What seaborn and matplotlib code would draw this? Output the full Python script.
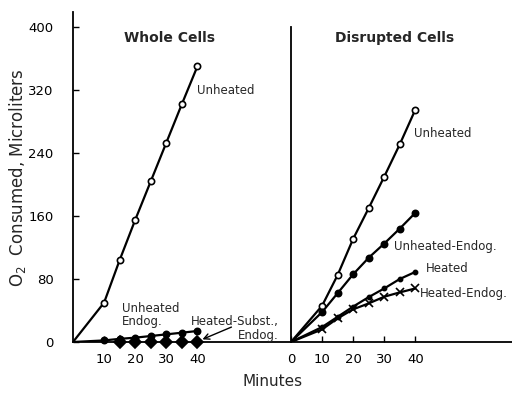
import matplotlib
matplotlib.use("Agg")
import matplotlib.pyplot as plt
import seaborn as sns
import pandas as pd

# ---- data ----
minutes = [0, 10, 15, 20, 25, 30, 35, 40]
whole_unheated = [0, 50, 104, 155, 204, 253, 302, 350]
whole_unheated_endog = [0, 2, 4, 5.5, 7.6, 9.7, 11.8, 14]
heated_subst_minutes = [15, 20, 25, 30, 35, 40]
whole_heated_subst = [0, 0, 0, 0, 0, 0]

disr_unheated = [0, 46, 85, 131, 170, 210, 251, 295]
disr_unheated_endog = [0, 38, 62, 86, 107, 125, 144, 164]
disr_heated = [0, 19, 32, 45, 57, 68, 80, 89]
disr_heated_endog = [0, 16, 30, 41.5, 49, 57.5, 63, 68]

y_ticks = [0, 80, 160, 240, 320, 400]
left_x_ticks = [10, 20, 30, 40]
right_x_ticks = [0, 10, 20, 30, 40]

sns.set_style("ticks")
plt.rcParams["font.family"] = ["DejaVu Sans"]

W, H = 512, 393
fig = plt.figure(figsize=(W / 100, H / 100), dpi=100)
ax1 = fig.add_axes([73 / W, 1 - 342 / H, (291 - 73) / W, (342 - 12) / H])
ax2 = fig.add_axes([291 / W, 1 - 342 / H, (512 - 291) / W, (342 - 12) / H], sharey=ax1)

k = "black"
lw = 1.6
fs = 9.5

def series(ax, x, y, marker, ms, mfc, line=True, zorder=3):
    if line:
        sns.lineplot(x=x, y=y, ax=ax, color=k, lw=lw, estimator=None, zorder=zorder)
    mx, my = (x[1:], y[1:]) if x[0] == 0 else (x, y)
    ax.plot(mx, my, linestyle="none", marker=marker, ms=ms, mfc=mfc, mec=k,
            mew=1.2, zorder=zorder + 1, clip_on=False)

# Whole cells
series(ax1, minutes, whole_unheated, "o", 4.5, "white")
series(ax1, minutes, whole_unheated_endog, "o", 4.5, k)
series(ax1, heated_subst_minutes, whole_heated_subst, "D", 6, k, line=False)

# Disrupted cells
series(ax2, minutes, disr_unheated, "o", 4.5, "white")
series(ax2, minutes, disr_unheated_endog, "o", 4.5, k)
series(ax2, minutes, disr_heated, "o", 3, k)
series(ax2, minutes, disr_heated_endog, "x", 6, k)

for ax in (ax1, ax2):
    ax.set_ylim(0, 419)
    for s in ("top", "right"):
        ax.spines[s].set_visible(False)
    for s in ("left", "bottom"):
        ax.spines[s].set_linewidth(1.3)
        ax.spines[s].set_color(k)
    ax.tick_params(direction="in", length=4, width=1, colors=k, labelsize=fs)
    ax.set_xlabel("")
    ax.set_ylabel("")

ax1.set_xlim(0, 70.1)
ax2.set_xlim(0, 71.1)
ax1.set_xticks(left_x_ticks)
ax2.set_xticks(right_x_ticks)
ax1.set_yticks(y_ticks)
ax1.tick_params(axis="x", pad=8)
ax2.tick_params(axis="x", pad=8)
ax1.tick_params(axis="y", pad=14)
ax2.tick_params(axis="y", left=False, labelleft=False)
ax2.spines["left"].set_bounds(0, 400)

fig.text(170 / W, 1 - 38 / H, "Whole Cells", ha="center", va="center", fontsize=10, fontweight="bold")
fig.text(395 / W, 1 - 38 / H, "Disrupted Cells", ha="center", va="center", fontsize=10, fontweight="bold")

def lab(x, y, s, ha="left"):
    fig.text(x / W, 1 - y / H, s, ha=ha, va="center", fontsize=8.5, linespacing=1.1)

lab(197, 91, "Unheated")
lab(122, 315, "Unheated\nEndog.")
lab(279, 328, "Heated-Subst.,\nEndog.", ha="right")
ax1.annotate("", xy=(40.8, 2), xycoords="data",
             xytext=(234 / W, 1 - 326 / H), textcoords="figure fraction",
             arrowprops=dict(arrowstyle="->", color=k, lw=1))
lab(414, 133, "Unheated")
lab(394, 246, "Unheated-Endog.")
lab(426, 269, "Heated")
lab(420, 293, "Heated-Endog.")

fig.text(18 / W, 1 - 178 / H, "O$_2$  Consumed, Microliters", rotation=90,
         ha="center", va="center", fontsize=12)
fig.text(273 / W, 1 - 381 / H, "Minutes", ha="center", va="center", fontsize=11)

fig.savefig("out.png", dpi=100)
